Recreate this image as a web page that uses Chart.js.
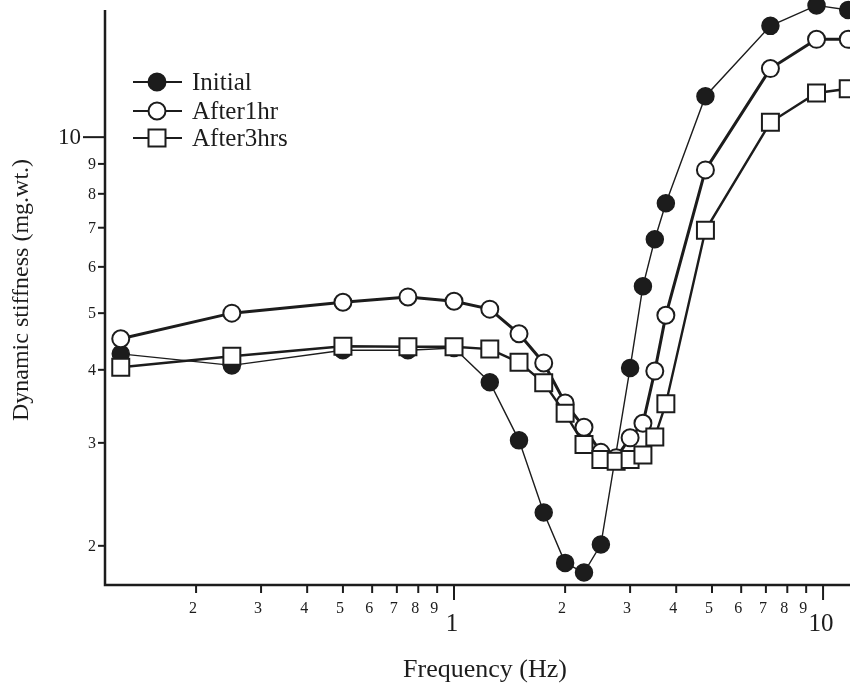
<!DOCTYPE html>
<html>
<head>
<meta charset="utf-8">
<script src="https://cdn.jsdelivr.net/npm/chart.js@4.4.0/dist/chart.umd.min.js"></script>
<style>
  html, body { margin: 0; padding: 0; background: #fff; }
  canvas { display: block; }
</style>
</head>
<body>
<canvas id="stiffness-chart" width="850" height="694"></canvas>
<script>
// frequencies (Hz) shared by the three runs
const frequencies = [0.125, 0.25, 0.5, 0.75, 1, 1.25, 1.5, 1.75, 2, 2.25, 2.5, 2.75, 3, 3.25, 3.5, 3.75, 4.8, 7.2, 9.6, 11.7];
// dynamic stiffness (mg.wt.)
const initial   = [4.26, 4.07, 4.32, 4.32, 4.36, 3.81, 3.03, 2.28, 1.87, 1.80, 2.01, null, 4.03, 5.56, 6.69, 7.71, 11.75, 15.5, 16.8, 16.5];
const after1hr  = [4.52, 5.0, 5.22, 5.33, 5.24, 5.08, 4.61, 4.11, 3.51, 3.19, 2.89, 2.83, 3.06, 3.24, 3.98, 4.96, 8.79, 13.1, 14.7, 14.7];
const after3hrs = [4.04, 4.22, 4.39, 4.38, 4.38, 4.34, 4.12, 3.80, 3.37, 2.98, 2.81, 2.79, 2.81, 2.86, 3.07, 3.50, 6.93, 10.6, 11.9, 12.1];

const seriesLabels = ['Initial', 'After1hr', 'After3hrs'];

// axis ticks
const xTicks = [0.2, 0.3, 0.4, 0.5, 0.6, 0.7, 0.8, 0.9, 1, 2, 3, 4, 5, 6, 7, 8, 9, 10];
const xTickLabels = ['2', '3', '4', '5', '6', '7', '8', '9', '1', '2', '3', '4', '5', '6', '7', '8', '9', '10'];
const yTicks = [2, 3, 4, 5, 6, 7, 8, 9, 10];
const yTickLabels = ['2', '3', '4', '5', '6', '7', '8', '9', '10'];

const ink = '#1c1c1c';
const serif = '"Liberation Serif", "DejaVu Serif", serif';

function points(values) {
  return frequencies.map((f, i) => ({ x: f, y: values[i] }));
}

// axes drawn in the old "paper" style: ticks outside, decade labels bigger
const paperAxes = {
  id: 'paperAxes',
  beforeDatasetsDraw(chart) {
    const { ctx, chartArea, scales } = chart;
    const xs = scales.x, ys = scales.y;
    const left = chartArea.left, bottom = chartArea.bottom;
    ctx.save();
    ctx.strokeStyle = ink;
    ctx.fillStyle = ink;
    ctx.lineWidth = 2.5;
    ctx.beginPath();
    ctx.moveTo(left, chartArea.top);
    ctx.lineTo(left, bottom);
    ctx.lineTo(chartArea.right, bottom);
    ctx.stroke();

    ctx.lineWidth = 2;
    ctx.textBaseline = 'middle';

    // x ticks
    ctx.textAlign = 'center';
    xTicks.forEach((v, i) => {
      const px = xs.getPixelForValue(v);
      const big = xTickLabels[i] === '1' || xTickLabels[i] === '10';
      ctx.beginPath();
      ctx.moveTo(px, bottom);
      ctx.lineTo(px, bottom + (big ? 15 : 8));
      ctx.stroke();
      ctx.font = (big ? 25 : 16) + 'px ' + serif;
      ctx.fillText(xTickLabels[i], big ? px - 2 : px - 3, big ? bottom + 39 : bottom + 24);
    });

    // y ticks
    ctx.textAlign = 'right';
    yTicks.forEach((v, i) => {
      const py = ys.getPixelForValue(v);
      const big = yTickLabels[i] === '10';
      ctx.beginPath();
      ctx.moveTo(left, py);
      ctx.lineTo(left - (big ? 22 : 7), py);
      ctx.stroke();
      ctx.font = (big ? 23 : 16) + 'px ' + serif;
      ctx.fillText(yTickLabels[i], big ? left - 24 : left - 9, py + 1);
    });

    // titles
    ctx.textAlign = 'center';
    ctx.font = '26px ' + serif;
    ctx.fillText('Frequency (Hz)', 485, 670);
    ctx.save();
    ctx.translate(22, 290);
    ctx.rotate(-Math.PI / 2);
    ctx.font = '24px ' + serif;
    ctx.fillText('Dynamic stiffness (mg.wt.)', 0, 0);
    ctx.restore();
    ctx.restore();
  },
  afterDatasetsDraw(chart) {
    // legend inside the plot, top left
    const { ctx } = chart;
    const rowsY = [82, 111, 138];
    ctx.save();
    chart.data.datasets.forEach((ds, i) => {
      const yy = rowsY[i];
      ctx.strokeStyle = ink;
      ctx.lineWidth = 2;
      ctx.beginPath();
      ctx.moveTo(133, yy);
      ctx.lineTo(182, yy);
      ctx.stroke();
      ctx.fillStyle = ds.pointBackgroundColor;
      ctx.beginPath();
      if (ds.pointStyle === 'rect') {
        ctx.rect(157 - 8.5, yy - 8.5, 17, 17);
      } else {
        ctx.arc(157, yy, 8.5, 0, Math.PI * 2);
      }
      ctx.fill();
      ctx.stroke();
      ctx.fillStyle = ink;
      ctx.font = '25px ' + serif;
      ctx.textAlign = 'left';
      ctx.textBaseline = 'middle';
      ctx.fillText(ds.label, 192, yy + 1);
    });
    ctx.restore();
  }
};

const ctx = document.getElementById('stiffness-chart').getContext('2d');
new Chart(ctx, {
  type: 'line',
  data: {
    datasets: [
      {
        label: seriesLabels[0],
        data: points(initial),
        borderColor: ink,
        borderWidth: 1.4,
        pointStyle: 'circle',
        pointRadius: 8.5,
        pointBackgroundColor: ink,
        pointBorderColor: ink,
        pointBorderWidth: 1.5,
        order: 3
      },
      {
        label: seriesLabels[1],
        data: points(after1hr),
        borderColor: ink,
        borderWidth: 3,
        pointStyle: 'circle',
        pointRadius: 8.5,
        pointBackgroundColor: '#ffffff',
        pointBorderColor: ink,
        pointBorderWidth: 2,
        order: 2
      },
      {
        label: seriesLabels[2],
        data: points(after3hrs),
        borderColor: ink,
        borderWidth: 2.4,
        pointStyle: 'rect',
        pointRadius: 12,
        pointBackgroundColor: '#ffffff',
        pointBorderColor: ink,
        pointBorderWidth: 2,
        order: 1
      }
    ]
  },
  options: {
    responsive: false,
    animation: false,
    devicePixelRatio: 1,
    spanGaps: true,
    layout: { autoPadding: false, padding: { left: 105, right: 0, top: 10, bottom: 109 } },
    elements: { line: { tension: 0 } },
    datasets: { line: { clip: false } },
    scales: {
      x: { type: 'logarithmic', min: 0.1133, max: 11.83, display: false },
      y: { type: 'logarithmic', min: 1.714, max: 16.5, display: false }
    },
    plugins: {
      legend: { display: false },
      tooltip: { enabled: false }
    }
  },
  plugins: [paperAxes]
});
</script>
</body>
</html>
